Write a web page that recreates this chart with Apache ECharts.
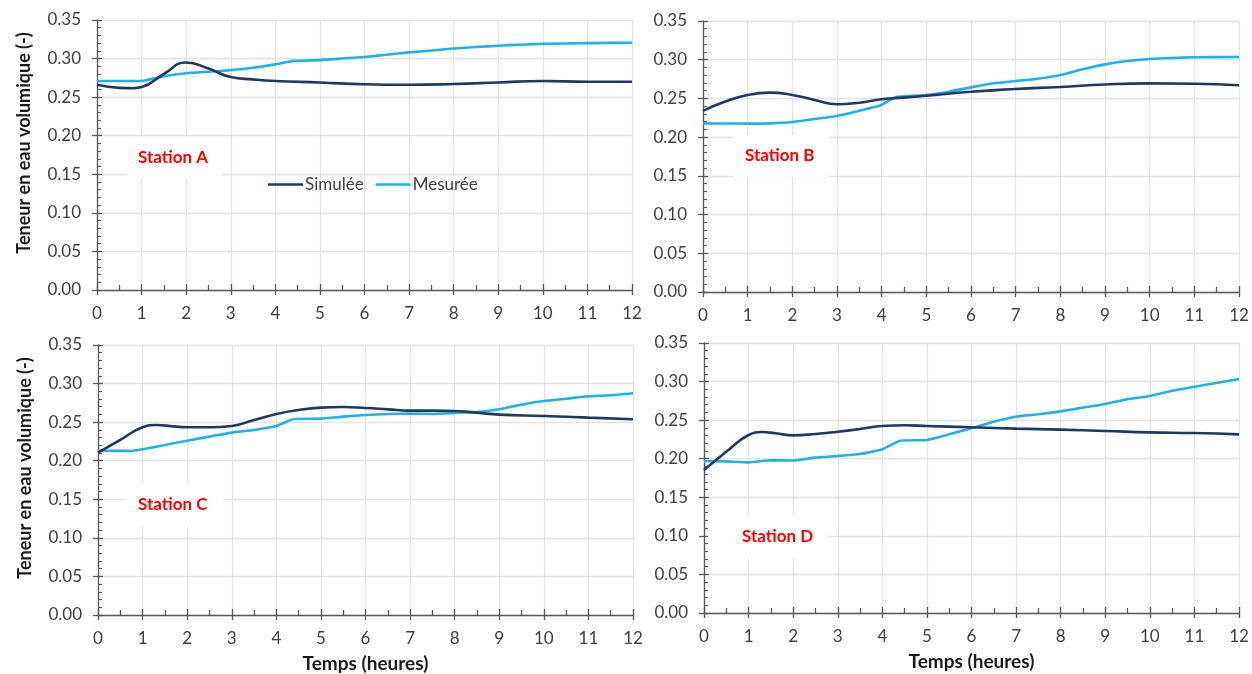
<!DOCTYPE html>
<html>
<head>
<meta charset="utf-8">
<script src="https://cdn.jsdelivr.net/npm/echarts@6/dist/echarts.min.js"></script>
<style>
html,body{margin:0;padding:0;background:#fff;}
#chart{width:1252px;height:674px;}
</style>
</head>
<body>
<div id="chart"></div>
<script>
// ---- Data ----
const stationNames = ['Station A', 'Station B', 'Station C', 'Station D'];
const seriesNames = ['Simulée', 'Mesurée'];
const xTicks = [0,1,2,3,4,5,6,7,8,9,10,11,12];
const yTicks = [0,0.05,0.10,0.15,0.20,0.25,0.30,0.35];

// Station A
const simA_h = [0,0.5,0.8,1,1.5,2,2.5,3,3.5,4,5,6,7,8,9,10,11,12];
const simA   = [0.266,0.262,0.2615,0.263,0.280,0.295,0.287,0.276,0.273,0.271,0.269,0.2667,0.266,0.267,0.269,0.271,0.270,0.270];
const mesA_h = [0,0.5,1,1.5,2,2.5,3,3.5,4,4.4,5,5.5,6,6.5,7,7.5,8,8.5,9,9.5,10,11,12];
const mesA   = [0.271,0.271,0.271,0.277,0.281,0.283,0.285,0.288,0.2925,0.297,0.298,0.300,0.302,0.305,0.308,0.3105,0.313,0.315,0.3167,0.318,0.319,0.320,0.3206];

// Station B
const simB_h = [0,0.5,1,1.5,2,2.5,3,3.5,4,4.5,5,6,7,8,9,10,11,12];
const simB   = [0.234,0.246,0.2545,0.2575,0.2545,0.248,0.2425,0.2445,0.249,0.251,0.2535,0.2587,0.2622,0.2648,0.268,0.2695,0.269,0.267];
const mesB_h = [0,0.5,1,1.5,2,2.5,3,3.5,4,4.3,5,5.5,6,6.5,7,7.5,8,8.5,9,9.5,10,10.5,11,12];
const mesB   = [0.2178,0.2176,0.2175,0.2178,0.2195,0.2235,0.2273,0.234,0.2415,0.2514,0.2544,0.2587,0.2643,0.2695,0.2725,0.2755,0.2803,0.2876,0.294,0.2983,0.3009,0.3022,0.3031,0.3035];

// Station C
const simC_h = [0,0.5,1,1.3,1.7,2,2.5,3,3.5,4,4.5,5,5.5,6,6.5,7,7.5,8,8.5,9,10,11,12];
const simC   = [0.2104,0.227,0.2433,0.2463,0.2445,0.2433,0.2433,0.245,0.2528,0.2606,0.2658,0.2688,0.2696,0.2683,0.2666,0.2649,0.2649,0.2645,0.2623,0.2597,0.258,0.2558,0.2537];
const mesC_h = [0,0.5,0.75,1,1.5,2,2.5,3,3.5,4,4.4,5,5.5,6,6.5,7,7.5,8,8.5,9,9.5,10,10.5,11,11.5,12];
const mesC   = [0.213,0.213,0.2126,0.2148,0.2204,0.226,0.2312,0.2364,0.2398,0.245,0.2541,0.2545,0.2571,0.2593,0.2606,0.2612,0.2606,0.2619,0.2632,0.2666,0.2727,0.2774,0.2804,0.2835,0.2848,0.2874];

// Station D
const simD_h = [0,0.5,1,1.3,1.6,2,2.5,3,3.5,4,4.5,5,6,7,8,9,10,11,12];
const simD   = [0.1854,0.2091,0.2307,0.2346,0.233,0.2303,0.232,0.235,0.2385,0.2424,0.2433,0.2424,0.2407,0.239,0.2377,0.236,0.2342,0.2333,0.2316];
const mesD_h = [0,0.5,1,1.5,2,2.5,3,3.5,4,4.4,5,5.5,6,6.5,7,7.5,8,8.5,9,9.5,10,10.5,11,11.5,12];
const mesD   = [0.197,0.1965,0.1953,0.198,0.1976,0.2014,0.2035,0.2061,0.2122,0.2234,0.2243,0.2316,0.2394,0.248,0.2545,0.2576,0.2614,0.2662,0.2709,0.277,0.2813,0.2882,0.2934,0.2982,0.3033];

const simH = [simA_h, simB_h, simC_h, simD_h];
const simV = [simA, simB, simC, simD];
const mesH = [mesA_h, mesB_h, mesC_h, mesD_h];
const mesV = [mesA, mesB, mesC, mesD];

// ---- Layout / style ----
const FONT = "Lato, 'Open Sans', 'DejaVu Sans', sans-serif";
const AXIS_COLOR = '#595959';
const GRID_COLOR = '#e3e3e3';
const LABEL_COLOR = '#404040';
const SIM_COLOR = '#1f3864';
const MES_COLOR = '#1fb1ec';

const grids = [
  {left: 97,  top: 20,  width: 535, height: 270},
  {left: 703, top: 21,  width: 536, height: 271},
  {left: 98,  top: 345, width: 535, height: 270},
  {left: 704, top: 343, width: 535, height: 270}
];
const stationBoxes = [
  {left: 127, top: 137, pad: [11, 14, 11, 11]},
  {left: 733, top: 135, pad: [11, 14, 11, 12]},
  {left: 125, top: 484, pad: [11, 16, 11, 13]},
  {left: 708, top: 516, pad: [11, 15, 11, 34]}
];

const xMin = xTicks[0], xMax = xTicks[xTicks.length - 1];
const yMin = yTicks[0], yMax = yTicks[yTicks.length - 1];

const xAxes = [], yAxes = [], series = [], titles = [];
grids.forEach((g, i) => {
  xAxes.push({
    type: 'value', gridIndex: i, position: 'bottom', min: xMin, max: xMax, interval: 1,
    axisLine: {show: true, onZero: false, lineStyle: {color: AXIS_COLOR, width: 1.3}},
    axisTick: {show: true, inside: false, length: 5, lineStyle: {color: AXIS_COLOR, width: 1.3}},
    minorTick: {show: false},
    splitLine: {show: true, lineStyle: {color: GRID_COLOR, width: 1.3}},
    axisLabel: {color: LABEL_COLOR, fontSize: 17, fontFamily: FONT, margin: 15},
    name: i >= 2 ? 'Temps (heures)' : '',
    nameLocation: 'middle', nameGap: 39,
    nameTextStyle: {fontWeight: 'bold', fontSize: 19, color: '#1a1a1a', fontFamily: FONT}
  });
  xAxes.push({
    type: 'value', gridIndex: i, position: 'bottom', min: xMin, max: xMax, interval: 1,
    axisLine: {show: false, onZero: false},
    axisTick: {show: true, inside: true, length: 6, lineStyle: {color: AXIS_COLOR, width: 1.3}},
    minorTick: {show: true, splitNumber: 2, length: 5, lineStyle: {color: AXIS_COLOR, width: 1.3}},
    splitLine: {show: false},
    axisLabel: {show: false}
  });
  yAxes.push({
    type: 'value', gridIndex: i, position: 'left', min: yMin, max: yMax, interval: 0.05,
    axisLine: {show: true, onZero: false, lineStyle: {color: AXIS_COLOR, width: 1.3}},
    axisTick: {show: true, inside: false, length: 5, lineStyle: {color: AXIS_COLOR, width: 1.3}},
    minorTick: {show: false},
    splitLine: {show: true, lineStyle: {color: GRID_COLOR, width: 1.3}},
    axisLabel: {color: LABEL_COLOR, fontSize: 17, fontFamily: FONT, margin: 16,
                formatter: v => v.toFixed(2)},
    name: (i === 0 || i === 2) ? 'Teneur en eau volumique (-)' : '',
    nameLocation: 'middle', nameGap: 64,
    nameTextStyle: {fontWeight: 'bold', fontSize: 18, color: '#1a1a1a', fontFamily: FONT,
                    padding: [0, 0, 0, 24]}
  });
  yAxes.push({
    type: 'value', gridIndex: i, position: 'left', min: yMin, max: yMax, interval: 0.05,
    axisLine: {show: false, onZero: false},
    axisTick: {show: true, inside: true, length: 5, lineStyle: {color: AXIS_COLOR, width: 1.3}},
    minorTick: {show: true, splitNumber: 5, length: 4, lineStyle: {color: AXIS_COLOR, width: 1.1}},
    splitLine: {show: false},
    axisLabel: {show: false}
  });

  series.push({
    name: seriesNames[1], type: 'line', xAxisIndex: 2 * i, yAxisIndex: 2 * i,
    data: mesH[i].map((h, k) => [h, mesV[i][k]]),
    symbol: 'none', smooth: 0.15, color: MES_COLOR,
    lineStyle: {width: 2.6, color: MES_COLOR}, z: 3
  });
  series.push({
    name: seriesNames[0], type: 'line', xAxisIndex: 2 * i, yAxisIndex: 2 * i,
    data: simH[i].map((h, k) => [h, simV[i][k]]),
    symbol: 'none', smooth: 0.5, color: SIM_COLOR,
    lineStyle: {width: 2.6, color: SIM_COLOR}, z: 4
  });

  const b = stationBoxes[i];
  titles.push({
    text: stationNames[i], left: b.left, top: b.top, padding: b.pad,
    backgroundColor: '#ffffff',
    textStyle: {color: '#ff0000', fontWeight: 'bold', fontSize: 17, lineHeight: 20, fontFamily: FONT}
  });
});

const chart = echarts.init(document.getElementById('chart'), null, {renderer: 'canvas'});
chart.setOption({
  animation: false,
  backgroundColor: '#ffffff',
  title: titles,
  legend: {
    data: seriesNames, left: 263, top: 171,
    icon: 'rect', itemWidth: 35, itemHeight: 2.6, itemGap: 12,
    textStyle: {fontSize: 17, color: LABEL_COLOR, fontFamily: FONT, padding: [0, 0, 0, -3]}
  },
  grid: grids,
  xAxis: xAxes,
  yAxis: yAxes,
  series: series
});
</script>
</body>
</html>
